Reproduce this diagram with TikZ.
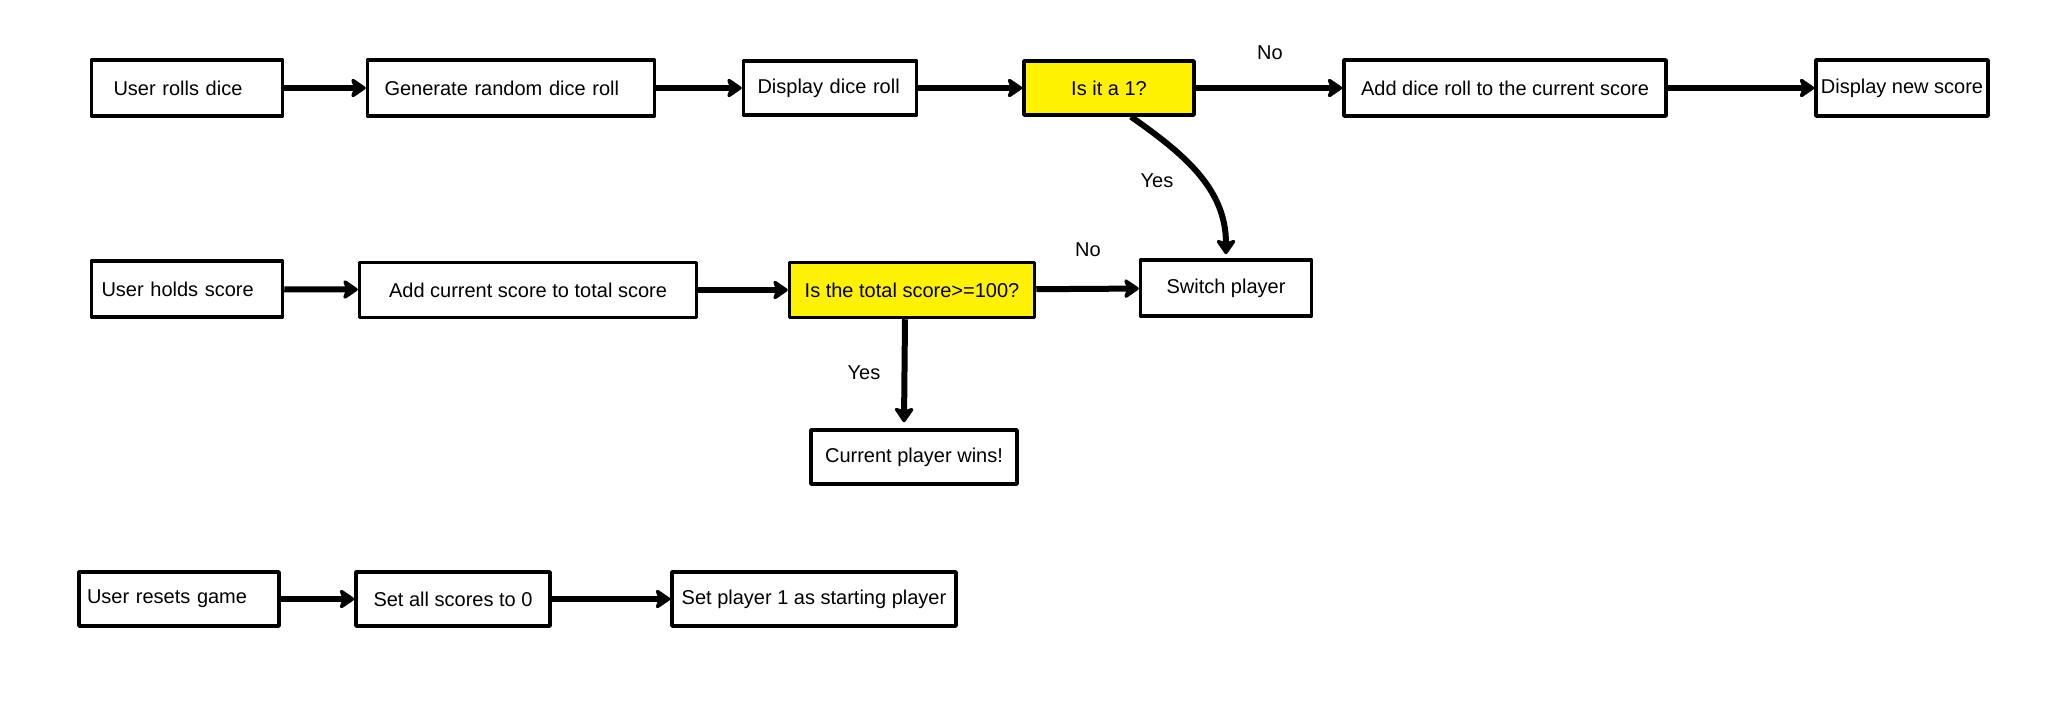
\documentclass[tikz,border=0pt]{standalone}
\usepackage{fontspec}
\setmainfont{Liberation Sans}
\usetikzlibrary{arrows.meta}
\begin{document}
\begin{tikzpicture}[x=1pt,y=-1pt,
  box/.style={draw=black, line width=3.5pt, fill=white, inner sep=0pt, line join=round,
    font=\fontsize{20}{22}\selectfont},
  dec/.style={box, fill=yellow},
  lbox/.style={box, align=left, inner xsep=#1},
  arr/.style={line width=6pt, -{Stealth[length=17pt,width=23pt,inset=4pt,round]}},
  lab/.style={font=\fontsize{20}{22}\selectfont, inner sep=0pt}]
\useasboundingbox (0,0) rectangle (2062,720);
% row 1
\node[lbox=22pt, text width=147pt, minimum height=56pt] (n1) at (187,88) {User rolls dice};
\node[lbox=17pt, text width=253pt, minimum height=56pt] (n2) at (511,88) {Generate random dice roll};
\node[lbox=14pt, text width=145pt, minimum height=54pt] (n3) at (830,88) {Display dice roll};
\node[dec, minimum width=170pt, minimum height=54pt] (n4) at (1109,88) {Is it a 1?};
\node[box, minimum width=322pt, minimum height=56pt] (n5) at (1505,88) {Add dice roll to the current score};
\node[box, minimum width=172pt, minimum height=56pt] (n6) at (1902,88) {Display new score};
% row 2
\node[lbox=10pt, text width=171pt, minimum height=56pt] (m1) at (187,289) {User holds score};
\node[box, minimum width=337pt, minimum height=55pt] (m2) at (528,290) {Add current score to total score};
\node[dec, minimum width=245pt, minimum height=55pt] (m3) at (912,290) {Is the total score>=100?};
\node[box, minimum width=171pt, minimum height=56pt] (m4) at (1226,288) {Switch player};
\node[box, minimum width=206pt, minimum height=54pt] (m5) at (914,457) {Current player wins!};
% row 3
\node[lbox=8pt, text width=184pt, minimum height=54pt] (r1) at (179,599) {User resets game};
\node[box, minimum width=194pt, minimum height=54pt] (r2) at (453,599) {Set all scores to 0};
\node[box, minimum width=284pt, minimum height=54pt] (r3) at (814,599) {Set player 1 as starting player};
% labels
\node[lab] (l1) at (1270,53) {No};
\node[lab] (l2) at (1088,250) {No};
\node[lab] (l3) at (1157,181) {Yes};
\node[lab] (l4) at (864,373) {Yes};
% arrows
\draw[arr] (n1) -- (n2);
\draw[arr] (n2) -- (n3);
\draw[arr] (n3) -- (n4);
\draw[arr] (n4) -- (n5);
\draw[arr] (n5) -- (n6);
\draw[arr] ([xshift=22pt]n4.south) to[out=-35,in=90] ([yshift=4pt]m4.north);
\draw[arr] (m1) -- (m2);
\draw[arr] (m2) -- (m3);
\draw[arr] (m3) -- (m4);
\draw[arr] ([xshift=-7pt]m3.south) -- ([xshift=-10pt,yshift=6pt]m5.north);
\draw[arr] (r1) -- (r2);
\draw[arr] (r2) -- (r3);
\end{tikzpicture}
\end{document}
